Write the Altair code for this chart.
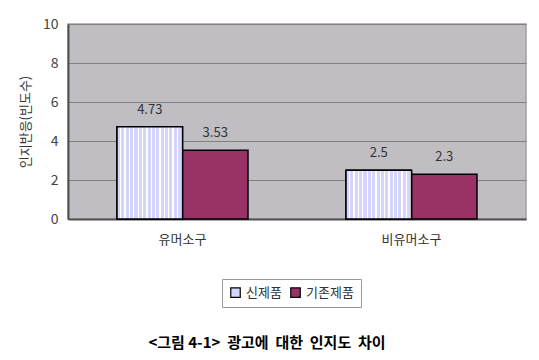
import altair as alt
import pandas as pd

categories = ["유머소구", "비유머소구"]
series = ["신제품", "기존제품"]
values_new = [4.73, 2.5]
values_old = [3.53, 2.3]
labels_new = ["4.73", "2.5"]
labels_old = ["3.53", "2.3"]
caption = "<그림\u00a04-1>\u00a0\u00a0광고에\u00a0\u00a0대한\u00a0\u00a0인지도\u00a0\u00a0차이"

rows = []
for i, c in enumerate(categories):
    rows.append({"cat": c, "series": series[0], "v": values_new[i], "lab": labels_new[i]})
    rows.append({"cat": c, "series": series[1], "v": values_old[i], "lab": labels_old[i]})
df = pd.DataFrame(rows)

FONT = "Noto Sans CJK KR"

x = alt.X("cat:N", sort=categories,
          scale=alt.Scale(paddingInner=0.428, paddingOuter=0.214),
          axis=alt.Axis(title=None, labelAngle=0, labelFontSize=13, labelFont=FONT,
                        labelColor="#333333", labelPadding=14, ticks=False,
                        domainColor="#505050", domainWidth=2))
xo = alt.XOffset("series:N", sort=series,
                 scale=alt.Scale(domain=series, paddingInner=0, paddingOuter=0))
y = alt.Y("v:Q", scale=alt.Scale(domain=[0, 10]),
          axis=alt.Axis(title="인지반응(빈도수)", values=[0, 2, 4, 6, 8, 10],
                        titleFont=FONT, titleFontSize=13, titleFontWeight="normal",
                        titleColor="#333333", titlePadding=10,
                        labelFontSize=14, labelFont=FONT, labelColor="#444444",
                        labelPadding=10, ticks=False, grid=True,
                        gridColor="#808080", gridWidth=1,
                        domainColor="#505050", domainWidth=2))

base = alt.Chart(df)

bars = base.mark_bar(stroke="black", strokeWidth=1.5).encode(
    x=x, xOffset=xo, y=y,
    color=alt.Color("series:N", sort=series,
                    scale=alt.Scale(domain=series, range=["#d4d4ff", "#993366"]),
                    legend=alt.Legend(title=None, orient="none", legendX=154, legendY=255,
                                      direction="horizontal", symbolType="square",
                                      symbolSize=90, symbolStrokeColor="black",
                                      symbolStrokeWidth=1.2, labelFont=FONT,
                                      labelFontSize=13, labelColor="#333333",
                                      strokeColor="#999999", fillColor="white",
                                      padding=7, columnPadding=6, labelOffset=4)),
)

stops = []
n = 15
for i in range(n):
    stops.append(alt.GradientStop(color="#d4d4ff", offset=i / n))
    stops.append(alt.GradientStop(color="#d4d4ff", offset=(i + 0.7) / n))
    stops.append(alt.GradientStop(color="#ffffff", offset=(i + 0.7) / n))
    stops.append(alt.GradientStop(color="#ffffff", offset=(i + 1) / n))
grad = alt.Gradient(gradient="linear", stops=stops, x1=0, x2=1, y1=0, y2=0)

striped = base.transform_filter(alt.datum.series == series[0]).mark_bar(
    fill=grad, stroke="black", strokeWidth=1.5
).encode(x=x, xOffset=xo, y=y)

text = base.mark_text(dy=-17, fontSize=13, font=FONT, color="#333333").encode(
    x=x, xOffset=xo, y=y, text="lab:N"
)

chart = alt.layer(bars, striped, text).properties(
    width=458, height=195,
    autosize=alt.AutoSizeParams(type="none"),
    padding={"left": 60, "top": 16, "right": 5, "bottom": 133},
    view=alt.ViewBackground(fill="#c0bec2", stroke="#a0a0a0", strokeWidth=1.5),
    title=alt.TitleParams(caption, orient="bottom",
                          anchor="middle", fontSize=15, font=FONT, fontWeight="bold",
                          color="black", offset=28, dx=-30),
).configure(background="white")

chart.save("out.html", embed_options={"renderer": "svg", "actions": False})
